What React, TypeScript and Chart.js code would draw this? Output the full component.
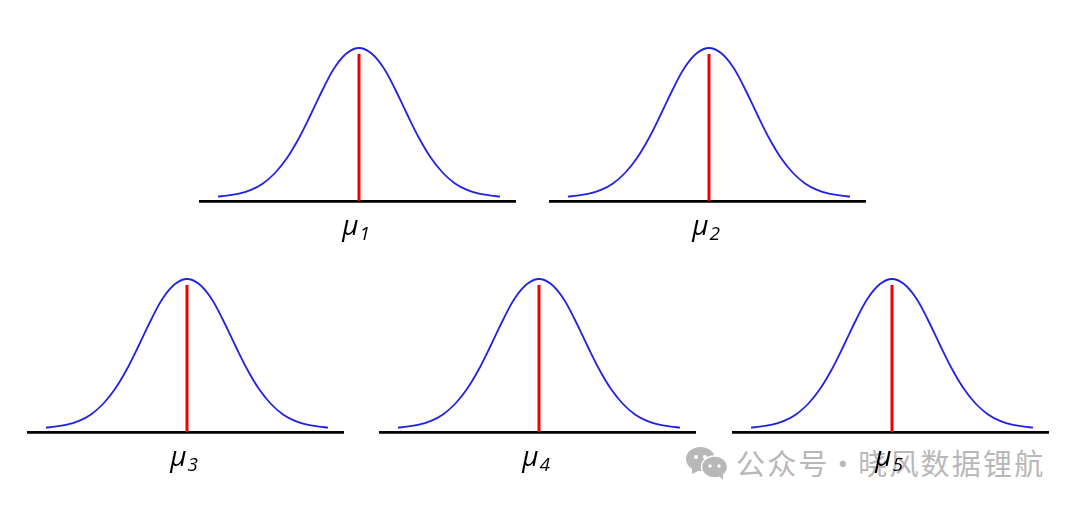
import React, { useEffect, useRef } from "react";
import { Chart, registerables } from "chart.js";

Chart.register(...registerables);

// Curve offsets from the mean and height above the axis.
const curveOffsets = [-141, -132, -120, -108, -96, -84, -72, -60, -48, -36, -24, -12, 0, 12, 24, 36, 48, 60, 72, 84, 96, 108, 120, 132, 141];
const curveHeights = [4.4, 5.4, 7.4, 11.2, 17.6, 28, 43, 63, 87, 112, 134, 148, 153, 148, 134, 112, 87, 63, 43, 28, 17.6, 11.2, 7.4, 5.4, 4.4];
const meanLineHeight = 147;
const subscripts = ["1", "2", "3", "4", "5"];
const panelLefts = [199, 549, 27, 379, 732];
const panelTops = [41, 41, 272, 272, 272];
const watermark = "公众号 · 晓风数据锂航";

const labelPlugin = {
  id: "meanLabel",
  afterDraw(chart: any, _args: any, opts: any) {
    const { ctx, scales } = chart;
    const cx = scales.x.getPixelForValue(0);
    const base = scales.x.top;
    ctx.save();
    ctx.fillStyle = "#000";
    ctx.textBaseline = "alphabetic";
    ctx.textAlign = "right";
    ctx.font = "italic 28px 'Open Sans'";
    ctx.fillText("\u03bc", cx - 0.5, base + 34);
    ctx.textAlign = "left";
    ctx.font = "italic 19px 'Open Sans'";
    ctx.fillText(opts.subscript, cx + 0.5, base + 39);
    ctx.restore();
  },
};

function Panel({ index }: { index: number }) {
  const ref = useRef<HTMLCanvasElement>(null);
  useEffect(() => {
    const chart = new Chart(ref.current!, {
      type: "line",
      data: {
        datasets: [
          {
            data: curveOffsets.map((x, i) => ({ x, y: curveHeights[i] })),
            borderColor: "#2222e6",
            borderWidth: 1.8,
            pointRadius: 0,
            tension: 0.4,
            clip: false,
          },
          {
            data: [{ x: 0, y: 0 }, { x: 0, y: meanLineHeight }],
            borderColor: "#f00000",
            borderWidth: 3,
            pointRadius: 0,
            clip: false,
          },
        ],
      },
      options: {
        animation: false,
        responsive: false,
        layout: { padding: 0 },
        plugins: {
          legend: { display: false },
          tooltip: { enabled: false },
          meanLabel: { subscript: subscripts[index] },
        },
        scales: {
          x: {
            type: "linear",
            min: -160,
            max: 157,
            afterFit: (s: any) => { s.height = 50; },
            grid: { display: false, drawTicks: false },
            border: { color: "#000", width: 2.8 },
            ticks: { display: false },
          },
          y: { display: false, min: 0, max: 160 },
        },
      },
      plugins: [labelPlugin],
    } as any);
    return () => chart.destroy();
  }, [index]);
  return (
    <canvas
      ref={ref}
      width={317}
      height={210}
      style={{ position: "absolute", left: panelLefts[index], top: panelTops[index], width: 317, height: 210 }}
    />
  );
}

export default function App() {
  return (
    <div style={{ position: "absolute", left: 0, top: 0, width: 1080, height: 507, background: "#fff", overflow: "hidden" }}>
      <svg width={44} height={36} viewBox="0 0 44 36" style={{ position: "absolute", left: 685, top: 445 }}>
        <ellipse cx="15.5" cy="14" rx="14.5" ry="12" fill="#b8b8b8" />
        <path d="M7 22 L7 29 L15 25 Z" fill="#b8b8b8" />
        <ellipse cx="29.5" cy="22" rx="13" ry="11" stroke="#fff" strokeWidth="1.5" fill="#b8b8b8" />
        <path d="M34 31 L38 35 L38 28 Z" fill="#b8b8b8" />
        <circle cx="11" cy="12" r="2" fill="#fff" />
        <circle cx="20" cy="12" r="2" fill="#fff" />
        <circle cx="25" cy="21" r="1.7" fill="#fff" />
        <circle cx="34" cy="21" r="1.7" fill="#fff" />
      </svg>
      <span
        style={{
          position: "absolute",
          left: 736,
          top: 444,
          fontFamily: "'Noto Sans CJK SC'",
          fontSize: 29,
          lineHeight: "36px",
          letterSpacing: 2.2,
          wordSpacing: -10,
          color: "#b8b8b8",
          whiteSpace: "nowrap",
        }}
      >
        {watermark}
      </span>
      {panelLefts.map((_, i) => (
        <Panel key={i} index={i} />
      ))}
    </div>
  );
}
